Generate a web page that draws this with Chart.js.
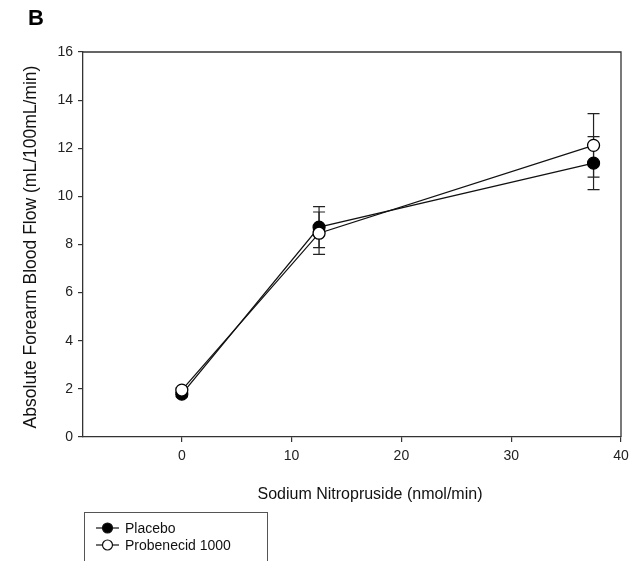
<!DOCTYPE html>
<html>
<head>
<meta charset="utf-8">
<script src="https://cdn.jsdelivr.net/npm/chart.js@4.4.1/dist/chart.umd.min.js"></script>
<style>
html,body{margin:0;padding:0;background:#fff;}
#wrap{width:638px;height:561px;position:relative;}
</style>
</head>
<body>
<div id="wrap"><canvas id="c" width="638" height="561"></canvas></div>
<script>
const doses = [0, 12.5, 37.5];
const placebo = [1.78, 8.72, 11.38];
const placeboErr = [0.1, 0.85, 1.1];
const probenecid = [1.95, 8.47, 12.12];
const probenecidErr = [0.1, 0.88, 1.32];
const xTicks = [0, 10, 20, 30, 40];
const yTicks = [0, 2, 4, 6, 8, 10, 12, 14, 16];
const seriesNames = ['Placebo', 'Probenecid 1000'];
const panelLabel = 'B';
const xTitle = 'Sodium Nitropruside (nmol/min)';
const yTitle = 'Absolute Forearm Blood Flow (mL/100mL/min)';

const FONT = '"Liberation Sans", Arial, sans-serif';
const AX = '#333';

function pts(ys){ return doses.map((d,i)=>({x:d,y:ys[i]})); }

const errorBars = {
  id:'errorBars',
  beforeDatasetsDraw(chart){
    const ctx = chart.ctx, xs = chart.scales.x, ys = chart.scales.y;
    const sets = [[placebo, placeboErr],[probenecid, probenecidErr]];
    ctx.save();
    ctx.strokeStyle = '#222';
    ctx.lineWidth = 1.2;
    sets.forEach(([v,e])=>{
      doses.forEach((d,i)=>{
        const px = xs.getPixelForValue(d);
        const top = ys.getPixelForValue(v[i]+e[i]);
        const bot = ys.getPixelForValue(v[i]-e[i]);
        ctx.beginPath();
        ctx.moveTo(px, top); ctx.lineTo(px, bot);
        ctx.moveTo(px-6, top); ctx.lineTo(px+6, top);
        ctx.moveTo(px-6, bot); ctx.lineTo(px+6, bot);
        ctx.stroke();
      });
    });
    ctx.restore();
  }
};

const decor = {
  id:'decor',
  afterDraw(chart){
    const ctx = chart.ctx, a = chart.chartArea;
    ctx.save();
    ctx.strokeStyle = AX; ctx.lineWidth = 1.3;
    ctx.beginPath();
    ctx.moveTo(a.left, a.top); ctx.lineTo(a.right, a.top); ctx.lineTo(a.right, a.bottom);
    ctx.stroke();
    ctx.fillStyle = '#000';
    ctx.font = 'bold 22px ' + FONT;
    ctx.textAlign = 'left'; ctx.textBaseline = 'middle';
    ctx.fillText(panelLabel, 28, 19);
    ctx.fillStyle = '#111';
    ctx.textAlign = 'center';
    ctx.font = '16px ' + FONT;
    ctx.fillText(xTitle, 370, 495);
    ctx.save();
    ctx.translate(31, 247);
    ctx.rotate(-Math.PI/2);
    ctx.font = '17.5px ' + FONT;
    ctx.fillText(yTitle, 0, 0);
    ctx.restore();
    ctx.strokeStyle = '#555'; ctx.lineWidth = 1;
    ctx.strokeRect(84.5, 512.5, 183, 60);
    ctx.font = '14px ' + FONT;
    ctx.textAlign = 'left';
    const rows = [{y:528, fill:'#000'},{y:545, fill:'#fff'}];
    rows.forEach((r,i)=>{
      ctx.strokeStyle = '#111'; ctx.lineWidth = 1.2;
      ctx.beginPath(); ctx.moveTo(96, r.y); ctx.lineTo(119, r.y); ctx.stroke();
      ctx.beginPath(); ctx.arc(107.5, r.y, 5, 0, Math.PI*2);
      ctx.fillStyle = r.fill; ctx.fill(); ctx.stroke();
      ctx.fillStyle = '#111';
      ctx.fillText(seriesNames[i], 125, r.y+1);
    });
    ctx.restore();
  }
};

new Chart(document.getElementById('c'), {
  type:'scatter',
  data:{datasets:[
    {label:seriesNames[0], data:pts(placebo), showLine:true, borderColor:'#111', borderWidth:1.3,
     pointRadius:6, pointBackgroundColor:'#000', pointBorderColor:'#000', pointBorderWidth:1.2, order:1},
    {label:seriesNames[1], data:pts(probenecid), showLine:true, borderColor:'#111', borderWidth:1.3,
     pointRadius:6, pointBackgroundColor:'#fff', pointBorderColor:'#000', pointBorderWidth:1.3, order:0}
  ]},
  options:{
    responsive:false, animation:false, devicePixelRatio:1,
    layout:{padding:{left:0, top:52, right:17, bottom:0}},
    plugins:{legend:{display:false}, tooltip:{enabled:false}},
    scales:{
      x:{type:'linear', min:-9, max:40,
        afterBuildTicks(s){ s.ticks = xTicks.map(v=>({value:v})); },
        afterFit(s){ s.height = 124; },
        grid:{display:true, drawOnChartArea:false, drawTicks:true, tickLength:5, color:AX, lineWidth:1.2},
        border:{display:true, color:AX, width:1.3},
        ticks:{color:'#222', font:{family:FONT, size:14}, padding:6, maxRotation:0}
      },
      y:{type:'linear', min:0, max:16,
        afterBuildTicks(s){ s.ticks = yTicks.map(v=>({value:v})); },
        afterFit(s){ s.width = 83; },
        grid:{display:true, drawOnChartArea:false, drawTicks:true, tickLength:5, color:AX, lineWidth:1.2},
        border:{display:true, color:AX, width:1.3},
        ticks:{color:'#222', font:{family:FONT, size:14}, padding:5}
      }
    }
  },
  plugins:[errorBars, decor]
});
</script>
</body>
</html>
